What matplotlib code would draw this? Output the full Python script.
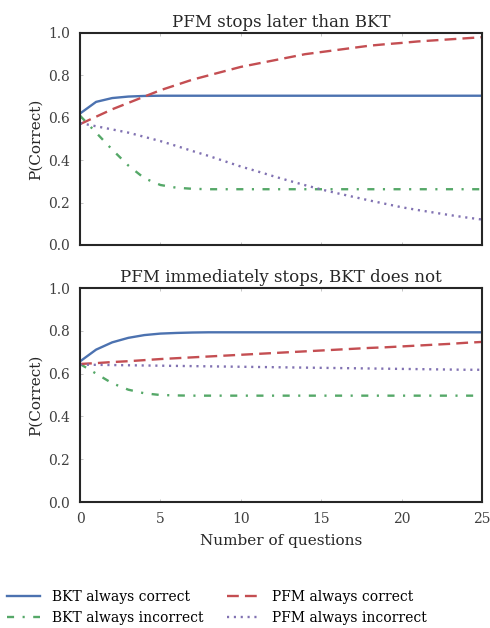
# BKT vs PFM stopping curves
import numpy as np
import matplotlib
matplotlib.use('Agg')
import matplotlib.pyplot as plt

plt.rcParams['font.family'] = ['DejaVu Serif']

questions = list(range(26))

# top panel: PFM stops later than BKT
top_bkt_correct = [0.62, 0.675, 0.693, 0.700, 0.703] + [0.704] * 21
top_bkt_incorrect = [0.61, 0.53, 0.45, 0.375, 0.315, 0.283, 0.270, 0.265] + [0.263] * 18
top_pfm_correct = [0.57, 0.605, 0.64, 0.67, 0.70, 0.73, 0.755, 0.78, 0.80, 0.82, 0.84,
                   0.855, 0.87, 0.885, 0.90, 0.91, 0.92, 0.93, 0.94, 0.947, 0.953,
                   0.96, 0.965, 0.97, 0.975, 0.98]
top_pfm_incorrect = [0.575, 0.56, 0.545, 0.53, 0.51, 0.49, 0.467, 0.443, 0.42, 0.395, 0.37,
                     0.348, 0.325, 0.303, 0.282, 0.262, 0.244, 0.227, 0.21, 0.194, 0.178,
                     0.165, 0.153, 0.141, 0.13, 0.12]

# bottom panel: PFM immediately stops, BKT does not
bot_bkt_correct = [0.657, 0.712, 0.746, 0.767, 0.78, 0.787, 0.790, 0.792] + [0.793] * 18
bot_bkt_incorrect = [0.645, 0.60, 0.555, 0.525, 0.508, 0.50, 0.498] + [0.497] * 19
bot_pfm_correct = [0.645, 0.649, 0.654, 0.658, 0.663, 0.668, 0.672, 0.676, 0.680, 0.684, 0.688,
                   0.692, 0.696, 0.700, 0.704, 0.708, 0.712, 0.716, 0.720, 0.723, 0.727,
                   0.731, 0.735, 0.739, 0.744, 0.748]
bot_pfm_incorrect = [0.642, 0.641, 0.640, 0.639, 0.638, 0.637, 0.636, 0.635, 0.634, 0.633, 0.632,
                     0.631, 0.630, 0.629, 0.628, 0.627, 0.626, 0.625, 0.624, 0.623, 0.622,
                     0.621, 0.620, 0.619, 0.618, 0.618]

blue = '#4C72B0'
green = '#55A868'
red = '#C44E52'
purple = '#8172B2'

fig = plt.figure(figsize=(4.9, 6.28), dpi=100)
ax1 = fig.add_axes([0.1633, 0.6099, 0.8204, 0.3376])
ax2 = fig.add_axes([0.1633, 0.2006, 0.8204, 0.3408])

def panel(ax, bc, bi, pc, pi, title):
    ax.plot(questions, bc, color=blue, ls='-', lw=1.7, label='BKT always correct')
    ax.plot(questions, bi, color=green, ls=(0, (3.0, 3.6, 0.9, 3.6)), lw=1.7, label='BKT always incorrect')
    ax.plot(questions, pc, color=red, ls=(0, (5.0, 2.6)), lw=1.7, label='PFM always correct')
    ax.plot(questions, pi, color=purple, ls=(0, (0.9, 2.0)), lw=1.7, label='PFM always incorrect')
    ax.set_xlim(0, 25)
    ax.set_ylim(0, 1)
    ax.set_yticks([0, 0.2, 0.4, 0.6, 0.8, 1.0])
    ax.set_title(title, fontsize=12, color='#262626', pad=4)
    ax.set_ylabel('P(Correct)', fontsize=11, color='#262626')
    for s in ax.spines.values():
        s.set_linewidth(1.5)
        s.set_color('#262626')
    ax.tick_params(direction='in', length=2, width=0.6, color='#bbbbbb',
                   top=True, right=False, labelsize=10, labelcolor='#404040', pad=7)

panel(ax1, top_bkt_correct, top_bkt_incorrect, top_pfm_correct, top_pfm_incorrect,
      'PFM stops later than BKT')
panel(ax2, bot_bkt_correct, bot_bkt_incorrect, bot_pfm_correct, bot_pfm_incorrect,
      'PFM immediately stops, BKT does not')
ax1.set_xticklabels([])
ax2.set_xlabel('Number of questions', fontsize=11, color='#262626', labelpad=6)

h, l = ax2.get_legend_handles_labels()
fig.legend(h, l, ncol=2, loc='lower left', bbox_to_anchor=(-0.012, -0.015), frameon=False,
           fontsize=10, handlelength=2.4, handletextpad=0.85, columnspacing=1.7,
           labelspacing=0.5)

fig.savefig('out.png', dpi=100)
